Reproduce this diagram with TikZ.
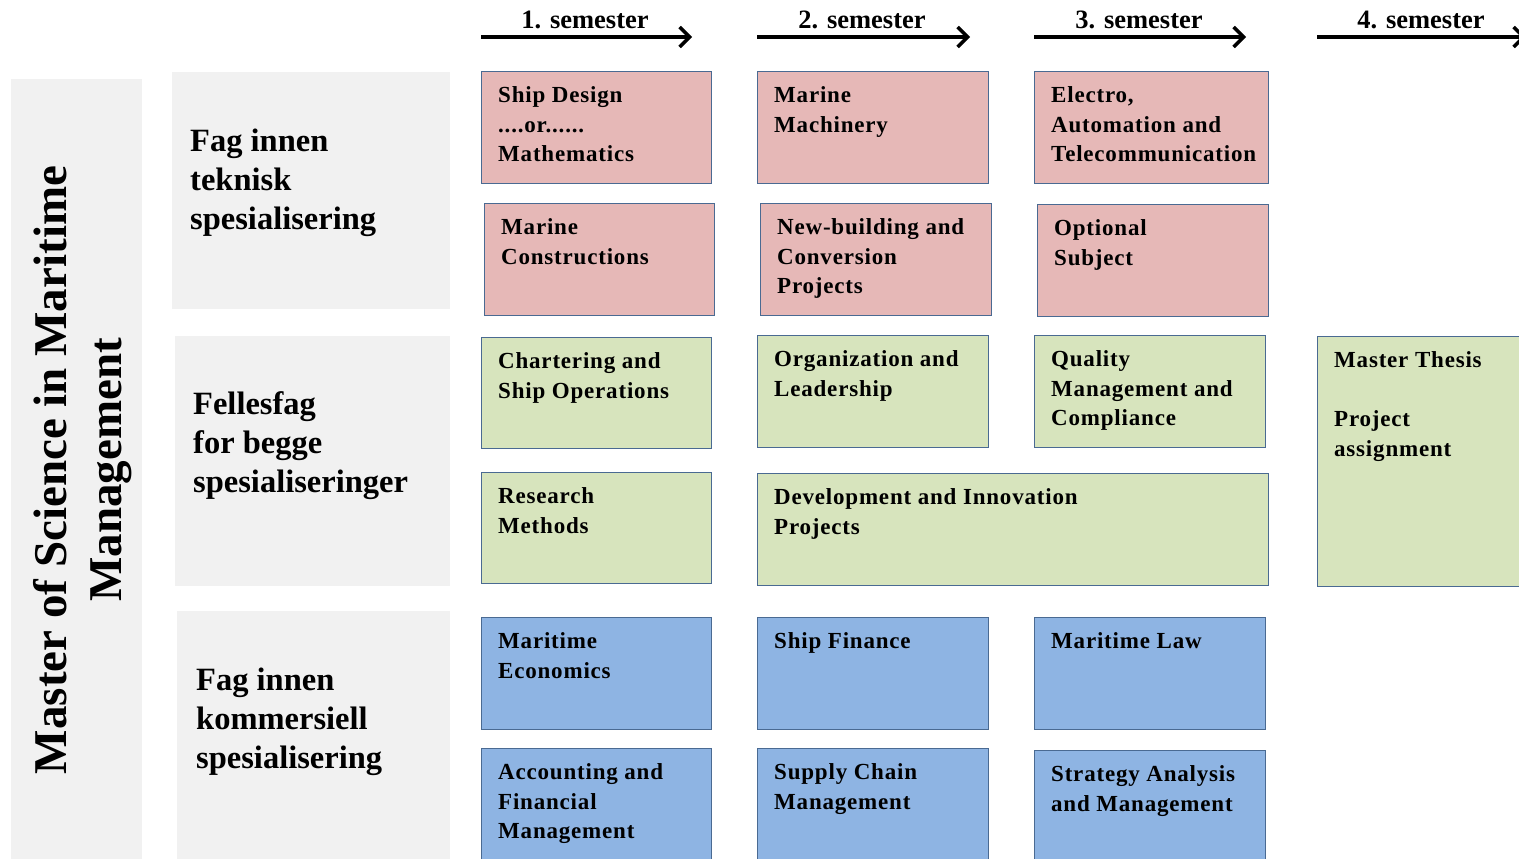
\documentclass[tikz,border=0pt]{standalone}
\usepackage{fontspec}
\setmainfont{Liberation Serif}
\usetikzlibrary{arrows.meta}
\definecolor{pinkc}{HTML}{E6B8B7}
\definecolor{greenc}{HTML}{D7E4BD}
\definecolor{bluec}{HTML}{8EB4E3}
\definecolor{edgec}{HTML}{4A6A92}
\definecolor{panelc}{HTML}{F1F1F1}
\tikzset{
  course/.style={draw=edgec, line width=1.3pt, anchor=north west, inner sep=0pt},
  pinkbox/.style={course, fill=pinkc},
  greenbox/.style={course, fill=greenc},
  bluebox/.style={course, fill=bluec},
  panel/.style={fill=panelc, draw=none, anchor=north west, inner sep=0pt},
  ctext/.style={anchor=north west, inner sep=0pt, align=left,
    font=\fontsize{23}{29.5}\selectfont\bfseries\addfontfeatures{LetterSpace=3.5}},
  ptext/.style={anchor=north west, inner sep=0pt, align=left,
    font=\fontsize{32.5}{39}\selectfont\bfseries},
  semtext/.style={inner sep=0pt, font=\fontsize{26.5}{30}\selectfont\bfseries},
  semarrow/.style={line width=3.5pt, -{Straight Barb[length=10pt,width=20pt,line width=3.5pt]}}
}
\begin{document}
\begin{tikzpicture}[x=1pt,y=-1pt]
\useasboundingbox (0,0) rectangle (1519,859);
\begin{scope}
\clip (0,0) rectangle (1519,859);
% header arrows
\coordinate (a1s) at (481,37); \coordinate (a1e) at (692,37);
\coordinate (a2s) at (757,37); \coordinate (a2e) at (970,37);
\coordinate (a3s) at (1034,37); \coordinate (a3e) at (1246,37);
\coordinate (a4s) at (1317,37); \coordinate (a4e) at (1526,37);
\draw[semarrow] (a1s) -- (a1e);
\draw[semarrow] (a2s) -- (a2e);
\draw[semarrow] (a3s) -- (a3e);
\draw[semarrow] (a4s) -- (a4e);
\node[semtext] (s1) at (585,20) {1. semester};
\node[semtext] (s2) at (862,20) {2. semester};
\node[semtext] (s3) at (1139,20) {3. semester};
\node[semtext] (s4) at (1421,20) {4. semester};

% grey panels
\node[panel, minimum width=131pt, minimum height=790pt] (pmain) at (11,79) {};
\node[panel, minimum width=278pt, minimum height=237pt] (p1) at (172,72) {};
\node[panel, minimum width=275pt, minimum height=250pt] (p2) at (175,336) {};
\node[panel, minimum width=273pt, minimum height=260pt] (p3) at (177,611) {};

\node[rotate=90, align=center, inner sep=0pt,
  font=\fontsize{47}{55}\selectfont\bfseries] (title) at (83,470)
  {Master of Science in Maritime\\Management};

\node[ptext] (t1) at (190,124) {\strut Fag innen\\teknisk\\spesialisering};
\node[ptext] (t2) at (193,387) {\strut Fellesfag\\for begge\\spesialiseringer};
\node[ptext] (t3) at (196,663) {\strut Fag innen\\kommersiell\\spesialisering};

% row 1
\node[pinkbox, minimum width=230pt, minimum height=112pt] (sd) at (481,71) {};
\node[pinkbox, minimum width=231pt, minimum height=112pt] (mm) at (757,71) {};
\node[pinkbox, minimum width=234pt, minimum height=112pt] (ea) at (1034,71) {};
\node[pinkbox, minimum width=230pt, minimum height=112pt] (mc) at (484,203) {};
\node[pinkbox, minimum width=231pt, minimum height=112pt] (nb) at (760,203) {};
\node[pinkbox, minimum width=231pt, minimum height=112pt] (os) at (1037,204) {};
% row 2
\node[greenbox, minimum width=230pt, minimum height=111pt] (ch) at (481,337) {};
\node[greenbox, minimum width=231pt, minimum height=112pt] (ol) at (757,335) {};
\node[greenbox, minimum width=231pt, minimum height=112pt] (qm) at (1034,335) {};
\node[greenbox, minimum width=230pt, minimum height=250pt] (mt) at (1317,336) {};
\node[greenbox, minimum width=230pt, minimum height=111pt] (rm) at (481,472) {};
\node[greenbox, minimum width=511pt, minimum height=112pt] (di) at (757,473) {};
% row 3
\node[bluebox, minimum width=230pt, minimum height=112pt] (me) at (481,617) {};
\node[bluebox, minimum width=231pt, minimum height=112pt] (sf) at (757,617) {};
\node[bluebox, minimum width=231pt, minimum height=112pt] (ml) at (1034,617) {};
\node[bluebox, minimum width=230pt, minimum height=130pt] (af) at (481,748) {};
\node[bluebox, minimum width=231pt, minimum height=130pt] (sc) at (757,748) {};
\node[bluebox, minimum width=231pt, minimum height=130pt] (sa) at (1034,750) {};

% texts
\node[ctext] at ([xshift=17pt,yshift=-11pt]sd.north west) {\strut Ship Design\\....or......\\Mathematics};
\node[ctext] at ([xshift=17pt,yshift=-11pt]mm.north west) {\strut Marine\\Machinery};
\node[ctext] at ([xshift=17pt,yshift=-11pt]ea.north west) {\strut Electro,\\Automation and\\Telecommunication};
\node[ctext] at ([xshift=17pt,yshift=-11pt]mc.north west) {\strut Marine\\Constructions};
\node[ctext] at ([xshift=17pt,yshift=-11pt]nb.north west) {\strut New-building and\\Conversion\\Projects};
\node[ctext] at ([xshift=17pt,yshift=-11pt]os.north west) {\strut Optional\\Subject};
\node[ctext] at ([xshift=17pt,yshift=-11pt]ch.north west) {\strut Chartering and\\Ship Operations};
\node[ctext] at ([xshift=17pt,yshift=-11pt]ol.north west) {\strut Organization and\\Leadership};
\node[ctext] at ([xshift=17pt,yshift=-11pt]qm.north west) {\strut Quality\\Management and\\Compliance};
\node[ctext] at ([xshift=17pt,yshift=-11pt]mt.north west) {\strut Master Thesis\\[29.5pt]Project\\assignment};
\node[ctext] at ([xshift=17pt,yshift=-11pt]rm.north west) {\strut Research\\Methods};
\node[ctext] at ([xshift=17pt,yshift=-11pt]di.north west) {\strut Development and Innovation\\Projects};
\node[ctext] at ([xshift=17pt,yshift=-11pt]me.north west) {\strut Maritime\\Economics};
\node[ctext] at ([xshift=17pt,yshift=-11pt]sf.north west) {\strut Ship Finance};
\node[ctext] at ([xshift=17pt,yshift=-11pt]ml.north west) {\strut Maritime Law};
\node[ctext] at ([xshift=17pt,yshift=-11pt]af.north west) {\strut Accounting and\\Financial\\Management};
\node[ctext] at ([xshift=17pt,yshift=-11pt]sc.north west) {\strut Supply Chain\\Management};
\node[ctext] at ([xshift=17pt,yshift=-11pt]sa.north west) {\strut Strategy Analysis\\and Management};
\end{scope}
\end{tikzpicture}
\end{document}
